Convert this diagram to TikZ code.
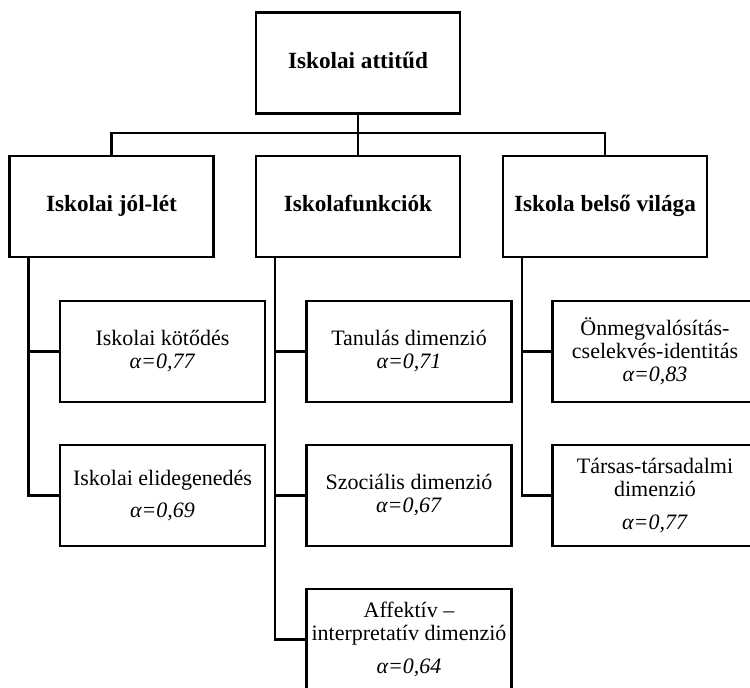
\documentclass[tikz,border=0pt]{standalone}
\usepackage{fontspec}
\setmainfont{Liberation Serif}
\usetikzlibrary{positioning}

\begin{document}
\begin{tikzpicture}[node distance=72pt, line width=1.1pt, font=\fontsize{11}{11.5}\selectfont]
    \tikzstyle{head} = [rectangle, draw, font=\fontsize{11.6}{12}\selectfont\bfseries, align=center, text height=8pt, text depth=2.5pt, minimum width=102pt, minimum height=50.5pt]
    \tikzstyle{dim} = [rectangle, draw, align=center, minimum width=102.5pt, minimum height=50.5pt, inner sep=1pt]
    \tikzstyle{line} = [line width=1.1pt]

    \path[use as bounding box, clip] (0,0) rectangle (375pt,-344pt);

    % Top
    \node [head] (attitud) at (179pt,-31.5pt) {Iskolai attitűd};

    % Main areas
    \node [head, below of=attitud, node distance=71.75pt] (funkciok) {Iskolafunkciók};
    \node [head, left of=funkciok, node distance=123.25pt] (jollet) {Iskolai jól-lét};
    \node [head, right of=funkciok, node distance=123.5pt] (vilag) {Iskola belső világa};

    % Dimensions
    \node [dim, below of=jollet, node distance=72.5pt, xshift=25.5pt] (kotodes) {Iskolai kötődés\\\textit{α=0,77}};
    \node [dim, below of=kotodes] (elidegen) {Iskolai elidegenedés\\[4.5pt]\textit{α=0,69}};

    \node [dim, below of=funkciok, node distance=72.5pt, xshift=25.5pt] (tanulas) {Tanulás dimenzió\\\textit{α=0,71}};
    \node [dim, below of=tanulas] (szocialis) {Szociális dimenzió\\\textit{α=0,67}};
    \node [dim, below of=szocialis] (affektiv) {Affektív –\\interpretatív dimenzió\\[5pt]\textit{α=0,64}};

    \node [dim, below of=vilag, node distance=72.5pt, xshift=25pt] (onmegval) {Önmegvalósítás-\\cselekvés-identitás\\\textit{α=0,83}};
    \node [dim, below of=onmegval] (tarsas) {Társas-társadalmi\\dimenzió\\[5pt]\textit{α=0,77}};

    \draw [line] (attitud) -- (funkciok);
    \draw [line] (jollet.north) -- ++(0,10.75pt) -| (vilag.north);

    \draw [line] ([xshift=10pt]jollet.south west) |- (kotodes.west);
    \draw [line] ([xshift=10pt]jollet.south west) |- (elidegen.west);

    \draw [line] ([xshift=10pt]funkciok.south west) |- (tanulas.west);
    \draw [line] ([xshift=10pt]funkciok.south west) |- (szocialis.west);
    \draw [line] ([xshift=10pt]funkciok.south west) |- (affektiv.west);

    \draw [line] ([xshift=10pt]vilag.south west) |- (onmegval.west);
    \draw [line] ([xshift=10pt]vilag.south west) |- (tarsas.west);
\end{tikzpicture}
\end{document}
